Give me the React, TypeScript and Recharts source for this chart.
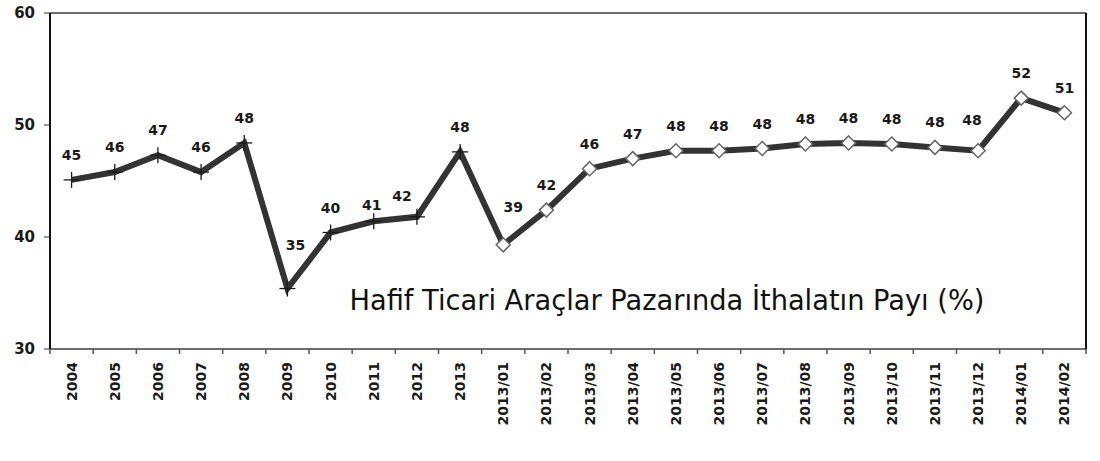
import React from 'react';
import { LineChart, Line, XAxis, YAxis, LabelList } from 'recharts';

// Hafif ticari araçlar — ithalatın pazar payı (%)
const periods = [
  '2004', '2005', '2006', '2007', '2008', '2009', '2010', '2011', '2012', '2013',
  '2013/01', '2013/02', '2013/03', '2013/04', '2013/05', '2013/06', '2013/07',
  '2013/08', '2013/09', '2013/10', '2013/11', '2013/12', '2014/01', '2014/02',
];
const importShare = [
  45.1, 45.8, 47.3, 45.8, 48.4, 35.4, 40.4, 41.4, 41.8, 47.6,
  39.3, 42.4, 46.1, 47.0, 47.7, 47.7, 47.9, 48.3, 48.4, 48.3, 48.0, 47.7, 52.4, 51.1,
];
const yTicks = [30, 40, 50, 60];
const annualCount = 10; // first 10 points are yearly (plus marker), rest monthly (diamond)
const title = 'Hafif Ticari Araçlar Pazarında İthalatın Payı (%)';

const data = periods.map((period, i) => ({ period, share: importShare[i] }));

const W = 1100;
const H = 461;
const PLOT_LEFT = 50;
const PLOT_RIGHT = 1086;
const BAND = (PLOT_RIGHT - PLOT_LEFT) / periods.length;
const FONT = '"DejaVu Sans", Verdana, sans-serif';

// hand-placed labels in the original (excel style)
const labelNudge: Record<string, { dx: number; dy: number }> = {
  '2009': { dx: 8, dy: -19 },
  '2011': { dx: -2, dy: 9 },
  '2012': { dx: -15, dy: 4 },
  '2013/01': { dx: 10, dy: -13 },
  '2013/12': { dx: -6, dy: -6 },
};

const PointMarker = (props: any) => {
  const { cx, cy, index } = props;
  if (cx == null || cy == null) return <g key={`m-${index}`} />;
  if (index < annualCount) {
    return (
      <g key={`m-${index}`} stroke="#1a1a1a" strokeWidth={1.3}>
        <line x1={cx - 8} y1={cy} x2={cx + 8} y2={cy} />
        <line x1={cx} y1={cy - 8} x2={cx} y2={cy + 8} />
      </g>
    );
  }
  const r = 7;
  return (
    <polygon
      key={`m-${index}`}
      points={`${cx},${cy - r} ${cx + r},${cy} ${cx},${cy + r} ${cx - r},${cy}`}
      fill="#fff"
      stroke="#666"
      strokeWidth={1.5}
    />
  );
};

const ValueLabel = (props: any) => {
  const { x, y, value, index } = props;
  const nudge = labelNudge[periods[index]] || { dx: 0, dy: 0 };
  return (
    <text
      x={x + nudge.dx}
      y={y - 20 + nudge.dy}
      textAnchor="middle"
      fontFamily={FONT}
      fontWeight="bold"
      fontSize={14}
      fill="#1a1a1a"
    >
      {Math.round(value)}
    </text>
  );
};

const PeriodTick = (props: any) => {
  const { x, y, payload, index } = props;
  const ty = y + 13;
  return (
    <g>
      <line x1={x - BAND / 2} y1={y} x2={x - BAND / 2} y2={y + 5} stroke="#555" strokeWidth={1.5} />
      {index === periods.length - 1 && (
        <line x1={x + BAND / 2} y1={y} x2={x + BAND / 2} y2={y + 5} stroke="#555" strokeWidth={1.5} />
      )}
      <text
        x={x}
        y={ty}
        transform={`rotate(-90, ${x}, ${ty})`}
        textAnchor="end"
        dominantBaseline="central"
        fontFamily={FONT}
        fontWeight="bold"
        fontSize={14}
        fill="#1a1a1a"
      >
        {payload.value}
      </text>
    </g>
  );
};

export default function App() {
  return (
    <div style={{ position: 'absolute', left: 0, top: 0, width: W, height: H, background: '#fff' }}>
      <LineChart width={W} height={H} data={data} margin={{ top: 12, right: W - PLOT_RIGHT - 1, bottom: 0, left: 0 }}>
        <XAxis
          dataKey="period"
          interval={0}
          height={H - 349}
          padding={{ left: BAND / 2, right: BAND / 2 }}
          tickSize={0}
          tickMargin={0}
          tickLine={false}
          axisLine={{ stroke: '#6e6e6e', strokeWidth: 2 }}
          tick={<PeriodTick />}
        />
        <XAxis
          xAxisId="top"
          orientation="top"
          dataKey="period"
          height={1}
          padding={{ left: BAND / 2, right: BAND / 2 }}
          tick={false}
          tickLine={false}
          axisLine={{ stroke: '#6e6e6e', strokeWidth: 2 }}
        />
        <YAxis
          domain={[30, 60]}
          ticks={yTicks}
          width={PLOT_LEFT}
          tickSize={6}
          tickMargin={9}
          tickLine={{ stroke: '#333' }}
          axisLine={{ stroke: '#111', strokeWidth: 2 }}
          tick={{ fontFamily: FONT, fontWeight: 'bold', fontSize: 15, fill: '#1a1a1a' }}
        />
        <YAxis
          yAxisId="right"
          orientation="right"
          domain={[30, 60]}
          width={1}
          tick={false}
          tickLine={false}
          axisLine={{ stroke: '#111', strokeWidth: 2 }}
        />
        <Line
          dataKey="share"
          stroke="#333"
          strokeWidth={6}
          dot={PointMarker}
          activeDot={false}
          isAnimationActive={false}
        >
          <LabelList dataKey="share" content={<ValueLabel />} />
        </Line>
      </LineChart>
      <svg width={W} height={H} style={{ position: 'absolute', left: 0, top: 0, pointerEvents: 'none' }}>
        <text
          x={667}
          y={310}
          textAnchor="middle"
          fontFamily={FONT}
          fontSize={28}
          fill="#111"
          textLength={635}
          lengthAdjust="spacingAndGlyphs"
        >
          {title}
        </text>
      </svg>
    </div>
  );
}
